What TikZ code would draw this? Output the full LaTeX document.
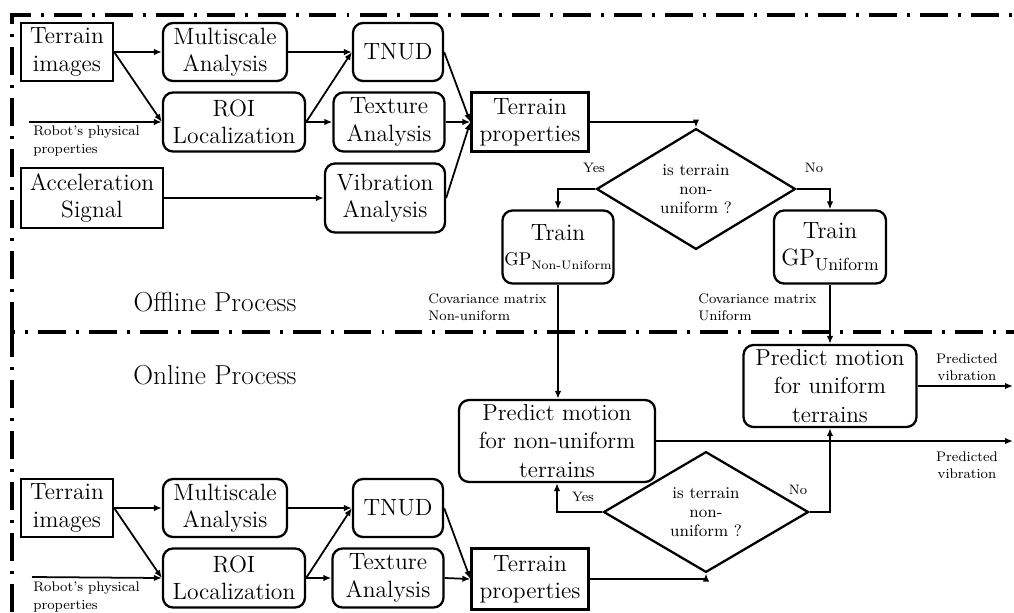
\documentclass[tikz,border=0pt]{standalone}
\usepackage{mathpazo}
\usetikzlibrary{arrows.meta,shapes.geometric}

\tikzset{
  box/.style={draw,line width=1.3pt,rounded corners=2mm,align=center,inner sep=0pt,
    font=\fontsize{13.4}{15.5}\selectfont},
  sbox/.style={box,rounded corners=0pt},
  predbox/.style={box,font=\fontsize{13.2}{16}\selectfont},
  dec/.style={draw,diamond,line width=1.3pt,inner sep=0pt,align=center,
    font=\fontsize{9.4}{10.8}\selectfont},
  arr/.style={line width=1pt,-{Latex[length=1.6mm,width=1.3mm]}},
  lbl/.style={font=\fontsize{7.9}{9.8}\selectfont,align=left,inner sep=0pt},
  yn/.style={font=\fontsize{7.8}{9}\selectfont,inner sep=0pt},
  border/.style={line width=1.8pt,dash pattern=on 15.9pt off 5.7pt on 1.7pt off 5.7pt}
}

\begin{document}
\begin{tikzpicture}[x=0.2mm,y=-0.2mm]
\useasboundingbox (0,0) rectangle (1014,612);
% frames
\draw[border] (12,330) -- (12,15) -- (1014,15);
\draw[border] (12,612) -- (12,332) -- (1014,332);
\node[font=\fontsize{15.6}{18}\selectfont] (offl) at (215,302) {Offline Process};
\node[font=\fontsize{15.6}{18}\selectfont] (onl) at (215,375) {Online Process};

% offline process
\node[sbox,minimum width=18.4mm,minimum height=11.6mm] (ti) at (67,52) {Terrain\\images};
\node[box,minimum width=24.8mm,minimum height=11.6mm] (ms) at (225,52) {Multiscale\\Analysis};
\node[box,minimum width=18mm,minimum height=11.6mm] (tnud) at (398,52) {TNUD};
\node[box,minimum width=28.4mm,minimum height=11.8mm] (roi) at (234,122) {ROI\\Localization};
\node[box,minimum width=22.2mm,minimum height=11.8mm] (tex) at (389,122) {Texture\\Analysis};
\node[sbox,minimum width=23.4mm,minimum height=11.8mm] (tp) at (530,122) {Terrain\\properties};
\node[sbox,minimum width=28.4mm,minimum height=12mm] (acc) at (92,198) {Acceleration\\Signal};
\node[box,minimum width=24mm,minimum height=13.8mm] (vib) at (385,198) {Vibration\\Analysis};
\coordinate (rin) at (29,122);
\node[lbl,anchor=west] (rlbl) at (33,141) {Robot's physical\\properties};

\draw[arr] (ti.east) -- (ms.west);
\draw[arr] (ti.east) -- (roi.west);
\draw[arr] (rin) -- (roi.west);
\draw[arr] (ms.east) -- (tnud.west);
\draw[arr] (roi.east) -- (tnud.west);
\draw[arr] (roi.east) -- (tex.west);
\draw[arr] (tnud.east) -- (tp.west);
\draw[arr] (tex.east) -- (tp.west);
\draw[arr] (vib.east) -- (tp.west);
\draw[arr] (acc.east) -- (vib.west);

\node[dec,minimum width=39.8mm,minimum height=19.8mm] (dec1) at (696,189) {is terrain\\non-\\uniform ?};
\node[box,minimum width=22.2mm,minimum height=14.6mm] (trnu) at (558,247)
  {Train\\[-1pt]{\fontsize{10.5}{12}\selectfont GP\raisebox{-0.45ex}{\fontsize{7}{7}\selectfont Non-Uniform}}};
\node[box,minimum width=22.4mm,minimum height=14.6mm] (tru) at (830,247)
  {Train\\GP\raisebox{-0.5ex}{\fontsize{10}{10}\selectfont Uniform}};
\node[yn] (yes1) at (594,168) {Yes};
\node[yn] (no1) at (814,168) {No};
\node[lbl,anchor=west] (covnu) at (428,307) {Covariance matrix\\Non-uniform};
\node[lbl,anchor=west] (covu) at (698,307) {Covariance matrix\\Uniform};

\draw[arr] (tp.east) -| (dec1.north);
\draw[arr] (dec1.west) -| (trnu.north);
\draw[arr] (dec1.east) -| (tru.north);

% online process
\node[predbox,minimum width=39.2mm,minimum height=16.4mm] (pnu) at (557,441) {Predict motion\\for non-uniform\\terrains};
\node[predbox,minimum width=34.6mm,minimum height=16.4mm] (pu) at (830,386) {Predict motion\\for uniform\\terrains};
\coordinate (out1) at (1013,386);
\coordinate (out2) at (1013,441);
\node[lbl,align=center] (pv1) at (967,367) {Predicted\\vibration};
\node[lbl,align=center] (pv2) at (967,465) {Predicted\\vibration};

\draw[arr] (trnu.south) -- (trnu.south |- pnu.north);
\draw[arr] (tru.south) -- (pu.north);
\draw[arr] (pu.east) -- (out1);
\draw[arr] (pnu.east) -- (out2);

\node[sbox,minimum width=18.4mm,minimum height=11.6mm] (ti2) at (67,508) {Terrain\\images};
\node[box,minimum width=24.8mm,minimum height=11.6mm] (ms2) at (225,508) {Multiscale\\Analysis};
\node[box,minimum width=18mm,minimum height=11.6mm] (tnud2) at (398,508) {TNUD};
\node[box,minimum width=28.4mm,minimum height=11.8mm] (roi2) at (234,578) {ROI\\Localization};
\node[box,minimum width=22.2mm,minimum height=11.8mm] (tex2) at (388,578) {Texture\\Analysis};
\node[sbox,minimum width=23.4mm,minimum height=12.2mm] (tp2) at (530,579) {Terrain\\properties};
\coordinate (rin2) at (32,577);
\node[lbl,anchor=west] (rlbl2) at (33,597) {Robot's physical\\properties};

\draw[arr] (ti2.east) -- (ms2.west);
\draw[arr] (ti2.east) -- (roi2.west);
\draw[arr] (rin2) -- (roi2.west);
\draw[arr] (ms2.east) -- (tnud2.west);
\draw[arr] (roi2.east) -- (tnud2.west);
\draw[arr] (roi2.east) -- (tex2.west);
\draw[arr] (tnud2.east) -- (tp2.west);
\draw[arr] (tex2.east) -- (tp2.west);

\node[dec,minimum width=41mm,minimum height=19.6mm] (dec2) at (706,512) {is terrain\\non-\\uniform ?};
\node[yn] (yes2) at (583,497) {Yes};
\node[yn] (no2) at (798,490) {No};

\draw[arr] (tp2.east) -| (dec2.south);
\draw[arr] (dec2.west) -| (pnu.south);
\draw[arr] (dec2.east) -| (pu.south);
\end{tikzpicture}
\end{document}
